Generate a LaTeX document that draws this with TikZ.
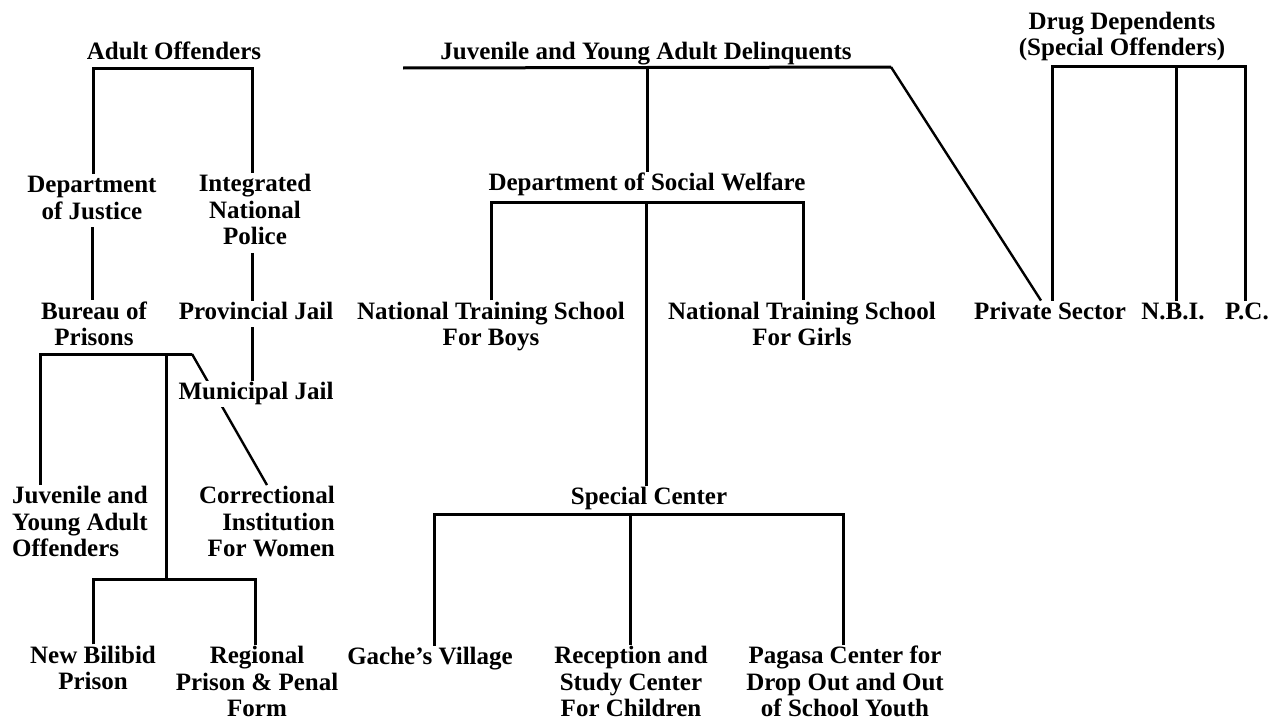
\documentclass[tikz,border=0pt]{standalone}
\usepackage{fontspec}
\setmainfont{Liberation Serif}
\pgfdeclarelayer{bg}
\pgfsetlayers{bg,main}
\newcommand\lblfont{\fontsize{25}{26.5}\selectfont\bfseries}
\newcommand\ST{\rule[-7.95pt]{0pt}{26.5pt}}
\begin{document}
\begin{tikzpicture}[x=1pt,y=-1pt,
  lbl/.style={inner sep=0pt, font=\lblfont, align=center},
  conn/.style={line width=3pt},
  slant/.style={line width=2.4pt}]
\useasboundingbox (0,0) rectangle (1272,720);
% ---- left tree: adult offenders
\node[lbl] (ao) at (174,54) {\ST Adult Offenders};
\node[lbl] (doj) at (92,200.5) {\ST Department\\\ST of Justice};
\node[lbl] (inp) at (255,213) {\ST Integrated\\\ST National\\\ST Police};
\node[lbl] (bop) at (94,327) {\ST Bureau of\\\ST Prisons};
\node[lbl] (pj) at (256,314) {\ST Provincial Jail};
\node[lbl, fill=white] (mj) at (256,394) {\ST Municipal Jail};
\node[lbl, align=left, anchor=west] (jyao) at (12,525) {\ST Juvenile and\\\ST Young Adult\\\ST Offenders};
\node[lbl, align=right, anchor=east] (ciw) at (335,525) {\ST Correctional\\\ST Institution\\\ST For Women};
\node[lbl] (nbp) at (93,671) {\ST New Bilibid\\\ST Prison};
\node[lbl] (rpp) at (257,685) {\ST Regional\\\ST Prison \& Penal\\\ST Form};
% ---- middle tree: juvenile delinquents
\node[lbl] (jyad) at (646,54) {\ST Juvenile and Young Adult Delinquents};
\node[lbl] (dsw) at (647,185) {\ST Department of Social Welfare};
\node[lbl] (ntsb) at (491,327) {\ST National Training School\\\ST For Boys};
\node[lbl] (ntsg) at (802,327) {\ST National Training School\\\ST For Girls};
\node[lbl] (sc) at (649,499) {\ST Special Center};
\node[lbl] (gv) at (430,659) {\ST Gache’s Village};
\node[lbl] (rsc) at (631,685) {\ST Reception and\\\ST Study Center\\\ST For Children};
\node[lbl] (pcd) at (845,685) {\ST Pagasa Center for\\\ST Drop Out and Out\\\ST of School Youth};
% ---- right tree: drug dependents
\node[lbl] (dd) at (1122,37) {\ST Drug Dependents\\\ST (Special Offenders)};
\node[lbl] (ps) at (1050,314) {\ST Private Sector};
\node[lbl] (nbi) at (1173,314) {\ST N.B.I.};
\node[lbl] (pc) at (1247,314) {\ST P.C.};

\begin{pgfonlayer}{bg}
% adult offenders
\coordinate (aoL) at (93,68); \coordinate (aoR) at (252,68);
\draw[conn] (aoL |- doj.north) -- (aoL) -- (aoR) -- (aoR |- inp.north);
\draw[conn] (doj.south) -- (doj.south |- bop.north);
\draw[conn] (aoR |- inp.south) -- (aoR |- pj.north);
\draw[conn] (aoR |- pj.south) -- (aoR |- mj.north);
\coordinate (bpL) at (40,354); \coordinate (bpM) at (166,354); \coordinate (bpR) at (192,354);
\draw[conn] (bpL |- jyao.north) -- (bpL) -- (bpR);
\draw[slant] (bpR) -- (ciw.north);
\coordinate (nbL) at (93,579); \coordinate (nbR) at (255,579);
\draw[conn] (bpM) -- (bpM |- nbL);
\draw[conn] (nbL |- nbp.north) -- (nbL) -- (nbR) -- (nbR |- rpp.north);
% juvenile delinquents
\coordinate (jl) at (403,68); \coordinate (jm) at (647,68); \coordinate (jr) at (891,67);
\draw[conn] (jl) -- (jr);
\draw[slant] (jr) -- ([xshift=-9pt]ps.north);
\draw[conn] (jm) -- (jm |- dsw.north);
\coordinate (dL) at (491,202); \coordinate (dM) at (646,202); \coordinate (dR) at (803,202);
\draw[conn] (dL |- ntsb.north) -- (dL) -- (dR) -- (dR |- ntsg.north);
\draw[conn] (dM) -- (dM |- sc.north);
\coordinate (sL) at (434,514); \coordinate (sM) at (630,514); \coordinate (sR) at (843,514);
\draw[conn] (sL |- gv.north) -- (sL) -- (sR) -- (sR |- pcd.north);
\draw[conn] (sM) -- (sM |- rsc.north);
% drug dependents
\coordinate (ddL) at (1052,66); \coordinate (ddM) at (1176,66); \coordinate (ddR) at (1245,66);
\draw[conn] (ddL |- ps.north) -- (ddL) -- (ddR) -- (ddR |- pc.north);
\draw[conn] (ddM) -- (ddM |- nbi.north);
\end{pgfonlayer}
\end{tikzpicture}
\end{document}
